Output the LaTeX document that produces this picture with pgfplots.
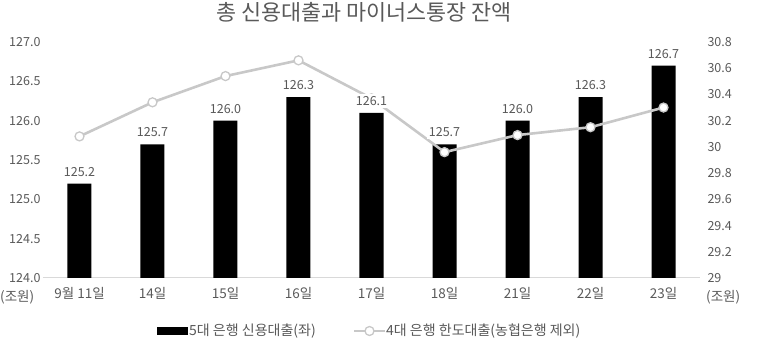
\documentclass[border=0pt]{standalone}
\usepackage{fontspec}
\setmainfont{Noto Sans CJK KR}
\usepackage{pgfplots}
\pgfplotsset{compat=1.18}
\definecolor{txt}{HTML}{595959}
\definecolor{ln}{HTML}{C8C8C8}
\definecolor{base}{HTML}{D9D9D9}
\pgfplotstableread{
x bank
0 125.2
1 125.7
2 126.0
3 126.3
4 126.1
5 125.7
6 126.0
7 126.3
8 126.7
}\banktable
\begin{document}
\begin{tikzpicture}
\path[use as bounding box] (0pt,0pt) rectangle (780pt,342pt);
\begin{axis}[
  at={(43pt,64pt)}, anchor=south west,
  width=657pt, height=236pt, scale only axis,
  xmin=-0.5, xmax=8.5, ymin=124, ymax=127,
  axis x line*=bottom, axis y line*=left,
  x axis line style={draw=base, line width=1pt, -},
  y axis line style={draw=none},
  major tick length=0pt,
  xtick={0,...,8},
  xticklabels={9월 11일,14일,15일,16일,17일,18일,21일,22일,23일},
  ytick={124,124.5,125,125.5,126,126.5,127},
  /pgf/number format/assume math mode=true,
  yticklabel style={/pgf/number format/fixed,/pgf/number format/precision=1,/pgf/number format/fixed zerofill, font=\fontsize{12.5}{14}\selectfont, text=txt, anchor=west, xshift=-37.3pt},
  xticklabel style={font=\fontsize{13.5}{15}\selectfont, text=txt, yshift=-6pt},
  ybar, bar width=24pt,
  clip=false,
]
\addplot[fill=black, draw=none] table[x=x, y=bank] {\banktable};
\end{axis}
\begin{axis}[
  at={(43pt,64pt)}, anchor=south west,
  width=657pt, height=236pt, scale only axis,
  xmin=-0.5, xmax=8.5, ymin=29, ymax=30.8,
  axis x line=none, axis y line*=right,
  y axis line style={draw=none},
  major tick length=0pt,
  ytick={29,29.2,29.4,29.6,29.8,30,30.2,30.4,30.6,30.8},
  /pgf/number format/assume math mode=true,
  yticklabel style={font=\fontsize{12.5}{14}\selectfont, text=txt, anchor=west, xshift=4pt},
  clip=false,
]
\addplot[color=ln, line width=2.6pt, mark=*, mark size=4.5pt, mark options={fill=white, draw=ln, line width=1.3pt}]
  coordinates {(0,30.08) (1,30.34) (2,30.54) (3,30.66) (4,30.37) (5,29.96) (6,30.09) (7,30.15) (8,30.30)};
\end{axis}
\begin{axis}[
  at={(43pt,64pt)}, anchor=south west,
  width=657pt, height=236pt, scale only axis,
  xmin=-0.5, xmax=8.5, ymin=124, ymax=127,
  hide axis,
  ybar, bar width=24pt,
  nodes near coords,
  nodes near coords style={font=\fontsize{12.5}{14}\selectfont, text=txt, fill=white, inner sep=2pt, /pgf/number format/fixed,/pgf/number format/precision=1,/pgf/number format/fixed zerofill, /pgf/number format/assume math mode=true, yshift=5pt},
  clip=false,
]
\addplot[draw=none, fill=none] table[x=x, y=bank] {\banktable};
\end{axis}
% legend
\fill[black] (157pt,7pt) rectangle (188pt,15pt);
\node[text=txt, font=\fontsize{14}{16}\selectfont, anchor=west, inner sep=0pt] at (189pt,11pt) {5대 은행 신용대출(좌)};
\draw[ln, line width=2.6pt] (354pt,11pt) -- (385pt,11pt);
\draw[ln, line width=1.3pt, fill=white] (369.5pt,11pt) circle (4.5pt);
\node[text=txt, font=\fontsize{14}{16}\selectfont, anchor=west, inner sep=0pt] at (386pt,11pt) {4대 은행 한도대출(농협은행 제외)};
\node[text=txt, font=\fontsize{21.8}{24}\selectfont] at (364pt,330pt) {총 신용대출과 마이너스통장 잔액};
\node[text=txt, font=\fontsize{13.5}{15}\selectfont, anchor=west, inner sep=0pt] at (0pt,45pt) {(조원)};
\node[text=txt, font=\fontsize{13.5}{15}\selectfont, anchor=west, inner sep=0pt] at (706pt,45pt) {(조원)};
\end{tikzpicture}
\end{document}
